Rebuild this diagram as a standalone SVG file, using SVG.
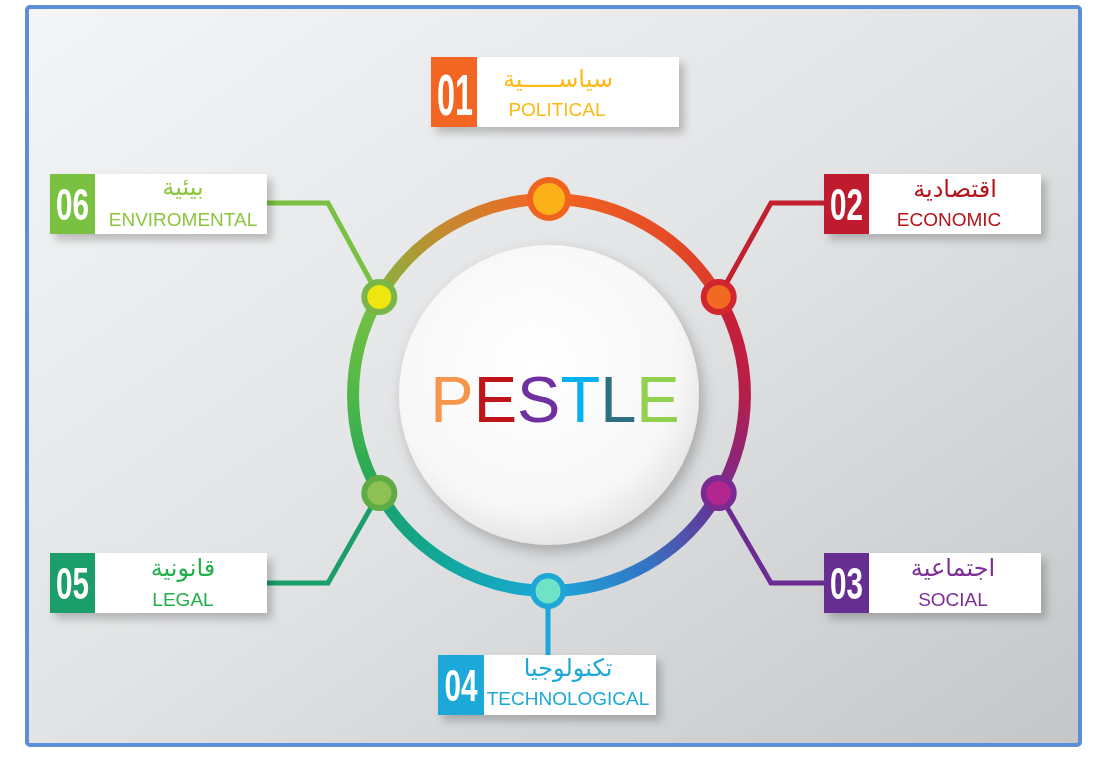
<svg xmlns="http://www.w3.org/2000/svg" width="1099" height="760" viewBox="0 0 1099 760">
<defs>
  <linearGradient id="bg" x1="0" y1="0" x2="1" y2="1">
    <stop offset="0" stop-color="#f4f5f6"/>
    <stop offset="0.5" stop-color="#e1e3e5"/>
    <stop offset="1" stop-color="#c4c6c8"/>
  </linearGradient>
  <radialGradient id="inner" cx="0.45" cy="0.4" r="0.6">
    <stop offset="0" stop-color="#ffffff"/>
    <stop offset="0.8" stop-color="#f7f7f7"/>
    <stop offset="1" stop-color="#e6e6e6"/>
  </radialGradient>
  <linearGradient id="g1" gradientUnits="userSpaceOnUse" x1="549" y1="199" x2="718.7" y2="297">
    <stop offset="0" stop-color="#f26522"/><stop offset="1" stop-color="#dc3a2a"/>
  </linearGradient>
  <linearGradient id="g2" gradientUnits="userSpaceOnUse" x1="718.7" y1="297" x2="718.7" y2="493">
    <stop offset="0" stop-color="#cc1f33"/><stop offset="0.5" stop-color="#b51e4a"/><stop offset="1" stop-color="#7b2a8f"/>
  </linearGradient>
  <linearGradient id="g3" gradientUnits="userSpaceOnUse" x1="718.7" y1="493" x2="549" y2="591">
    <stop offset="0" stop-color="#6c2c91"/><stop offset="0.5" stop-color="#3573c4"/><stop offset="1" stop-color="#1ba8d8"/>
  </linearGradient>
  <linearGradient id="g4" gradientUnits="userSpaceOnUse" x1="549" y1="591" x2="379.3" y2="493">
    <stop offset="0" stop-color="#1ba8d8"/><stop offset="0.5" stop-color="#10a7a0"/><stop offset="1" stop-color="#1aa36a"/>
  </linearGradient>
  <linearGradient id="g5" gradientUnits="userSpaceOnUse" x1="379.3" y1="493" x2="379.3" y2="297">
    <stop offset="0" stop-color="#22a65a"/><stop offset="0.5" stop-color="#4fb848"/><stop offset="1" stop-color="#7ac143"/>
  </linearGradient>
  <linearGradient id="g6" gradientUnits="userSpaceOnUse" x1="379.3" y1="297" x2="549" y2="199">
    <stop offset="0" stop-color="#86b43e"/><stop offset="0.45" stop-color="#c48a30"/><stop offset="1" stop-color="#f26522"/>
  </linearGradient>
  <filter id="sh" x="-10%" y="-20%" width="130%" height="160%">
    <feDropShadow dx="5" dy="6" stdDeviation="4" flood-color="#000" flood-opacity="0.22"/>
  </filter>
  <filter id="csh" x="-20%" y="-20%" width="140%" height="140%">
    <feDropShadow dx="4" dy="6" stdDeviation="7" flood-color="#000" flood-opacity="0.25"/>
  </filter>
  <style>
    .ring{fill:none;stroke-width:12}
    .conn{fill:none;stroke-width:5;stroke-linejoin:miter}
    .card{fill:#ffffff}
    .num{font-family:"Liberation Sans","Arial",sans-serif;font-weight:bold;fill:#ffffff;text-anchor:middle}
    .ar{font-family:"DejaVu Sans",sans-serif;font-size:24px;text-anchor:middle}
    .en{font-family:"Liberation Sans","Arial",sans-serif;font-size:19px;text-anchor:middle}
    .big{font-family:"Liberation Sans","Arial",sans-serif;font-size:65px}
  </style>
</defs>

<rect x="0" y="0" width="1099" height="760" fill="#ffffff"/>
<rect x="27" y="7" width="1053" height="738" rx="3" fill="url(#bg)" stroke="#5b8fd8" stroke-width="4"/>

<g id="inner-circle">
  <circle cx="549" cy="395" r="150" fill="url(#inner)" filter="url(#csh)"/>
</g>

<g id="ring">
  <path class="ring" stroke="url(#g1)" d="M549 199 A196 196 0 0 1 718.7 297"/>
  <path class="ring" stroke="url(#g2)" d="M718.7 297 A196 196 0 0 1 718.7 493"/>
  <path class="ring" stroke="url(#g3)" d="M718.7 493 A196 196 0 0 1 549 591"/>
  <path class="ring" stroke="url(#g4)" d="M549 591 A196 196 0 0 1 379.3 493"/>
  <path class="ring" stroke="url(#g5)" d="M379.3 493 A196 196 0 0 1 379.3 297"/>
  <path class="ring" stroke="url(#g6)" d="M379.3 297 A196 196 0 0 1 549 199"/>
</g>

<g id="connectors">
  <polyline class="conn" stroke="#c1202f" points="718.7,297 771,203 826,203"/>
  <polyline class="conn" stroke="#6a2c91" points="718.7,493 771,583 826,583"/>
  <polyline class="conn" stroke="#1ba8d8" stroke-width="7" points="548,591 548,657"/>
  <polyline class="conn" stroke="#1a9e6a" points="379.3,493 328,583 265,583"/>
  <polyline class="conn" stroke="#7ac143" points="379.3,297 328,203 265,203"/>
</g>

<g id="ring-nodes">
  <circle cx="549" cy="199" r="22" fill="#f0641f"/><circle cx="549" cy="199" r="16" fill="#fdb118"/>
  <circle cx="718.7" cy="297" r="18" fill="#d2262e"/><circle cx="718.7" cy="297" r="12" fill="#f26a21"/>
  <circle cx="718.7" cy="493" r="18" fill="#7a2a90"/><circle cx="718.7" cy="493" r="12" fill="#b3268f"/>
  <circle cx="548" cy="591" r="18" fill="#1ea6d6"/><circle cx="548" cy="591" r="12.5" fill="#70e3c6"/>
  <circle cx="379.3" cy="493" r="18" fill="#5fab46"/><circle cx="379.3" cy="493" r="12" fill="#8dc153"/>
  <circle cx="379.3" cy="297" r="18" fill="#7ab648"/><circle cx="379.3" cy="297" r="12" fill="#efe50f"/>
</g>

<g id="pestle">
  <text class="big" x="555" y="422" text-anchor="middle"><tspan fill="#f7964a">P</tspan><tspan fill="#c0141b">E</tspan><tspan fill="#7030a0">S</tspan><tspan fill="#00b0f0">T</tspan><tspan fill="#2f6f82">L</tspan><tspan fill="#92d050">E</tspan></text>
</g>

<g id="node-01" filter="url(#sh)">
  <rect class="card" x="477" y="57" width="202" height="70"/>
  <rect x="431" y="57" width="46" height="70" fill="#f26522"/>
  <text class="num" x="455" y="115" font-size="58" textLength="36" lengthAdjust="spacingAndGlyphs">01</text>
  <text class="ar" x="558" y="87" fill="#fdb913">سياســـــية</text>
  <text class="en" x="557" y="116" fill="#fdb913">POLITICAL</text>
</g>

<g id="node-02" filter="url(#sh)">
  <rect class="card" x="869" y="174" width="172" height="60"/>
  <rect x="824" y="174" width="45" height="60" fill="#be1e2d"/>
  <text class="num" x="846.5" y="220" font-size="45" textLength="33" lengthAdjust="spacingAndGlyphs">02</text>
  <text class="ar" x="955" y="197" fill="#b5121b">اقتصادية</text>
  <text class="en" x="949" y="226" fill="#b5121b">ECONOMIC</text>
</g>

<g id="node-03" filter="url(#sh)">
  <rect class="card" x="869" y="553" width="172" height="60"/>
  <rect x="824" y="553" width="45" height="60" fill="#662d91"/>
  <text class="num" x="846.5" y="599" font-size="45" textLength="33" lengthAdjust="spacingAndGlyphs">03</text>
  <text class="ar" x="953" y="576" fill="#7b2f96">اجتماعية</text>
  <text class="en" x="953" y="606" fill="#7b2f96">SOCIAL</text>
</g>

<g id="node-04" filter="url(#sh)">
  <rect class="card" x="484" y="655" width="172" height="60"/>
  <rect x="438" y="655" width="46" height="60" fill="#1ba8d8"/>
  <text class="num" x="461" y="701" font-size="45" textLength="33" lengthAdjust="spacingAndGlyphs">04</text>
  <text class="ar" x="568" y="676" fill="#1ba8d8">تكنولوجيا</text>
  <text class="en" x="568" y="705" fill="#1ba8d8">TECHNOLOGICAL</text>
</g>

<g id="node-05" filter="url(#sh)">
  <rect class="card" x="95" y="553" width="172" height="60"/>
  <rect x="50" y="553" width="45" height="60" fill="#1b9e6b"/>
  <text class="num" x="72.5" y="599" font-size="45" textLength="33" lengthAdjust="spacingAndGlyphs">05</text>
  <text class="ar" x="183" y="576" fill="#22b04c">قانونية</text>
  <text class="en" x="183" y="606" fill="#22b04c">LEGAL</text>
</g>

<g id="node-06" filter="url(#sh)">
  <rect class="card" x="95" y="174" width="172" height="60"/>
  <rect x="50" y="174" width="45" height="60" fill="#7ac143"/>
  <text class="num" x="72.5" y="220" font-size="45" textLength="33" lengthAdjust="spacingAndGlyphs">06</text>
  <text class="ar" x="183" y="195" fill="#8cc63f">بيئية</text>
  <text class="en" x="183" y="226" fill="#8cc63f">ENVIROMENTAL</text>
</g>
</svg>
